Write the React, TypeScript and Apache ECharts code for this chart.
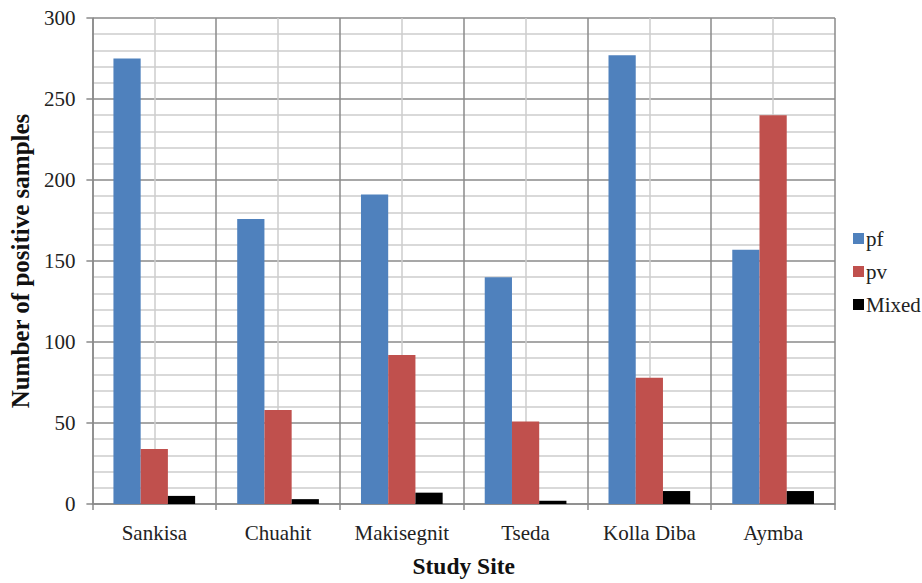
import React, { useEffect, useRef } from "react";
import * as echarts from "echarts";

const categories = ["Sankisa", "Chuahit", "Makisegnit", "Tseda", "Kolla Diba", "Aymba"];
const pfValues = [275, 176, 191, 140, 277, 157];
const pvValues = [34, 58, 92, 51, 78, 240];
const mixedValues = [5, 3, 7, 2, 8, 8];
const seriesNames = ["pf", "pv", "Mixed"];
const seriesColors = ["#4F81BD", "#C0504D", "#000000"];

const FONT = "Liberation Serif";
const DARK = "#8a8a8a";
const LIGHT = "#cdcdcd";

export default function App() {
  const ref = useRef<HTMLDivElement>(null);
  useEffect(() => {
    if (!ref.current) return;
    const chart = echarts.init(ref.current, null, { renderer: "svg" });
    const seriesData = [pfValues, pvValues, mixedValues];
    chart.setOption({
      animation: false,
      backgroundColor: "#ffffff",
      textStyle: { fontFamily: FONT },
      grid: { left: 92, right: 87, top: 18, bottom: 75, containLabel: false },
      legend: {
        orient: "vertical",
        left: 848,
        top: 223,
        itemWidth: 11,
        itemHeight: 11,
        itemGap: 12,
        icon: "rect",
        data: seriesNames,
        textStyle: { fontFamily: FONT, fontSize: 21, color: "#222", padding: [0, 0, 0, -3] },
      },
      xAxis: [
        {
          type: "category",
          data: categories,
          name: "Study Site",
          nameLocation: "middle",
          nameGap: 50,
          nameTextStyle: { fontFamily: FONT, fontSize: 23.5, fontWeight: "bold", color: "#111" },
          axisLine: { show: true, lineStyle: { color: DARK, width: 1.5 } },
          axisTick: { show: true, length: 6, lineStyle: { color: DARK, width: 1.5 } },
          axisLabel: { fontFamily: FONT, fontSize: 21, color: "#222", margin: 18 },
          splitLine: { show: false },
        },
        {
          type: "value",
          position: "top",
          min: 0,
          max: 12,
          interval: 1,
          axisLine: { show: false },
          axisTick: { show: false },
          axisLabel: { show: false },
          splitLine: { show: true, lineStyle: { color: [DARK, LIGHT], width: 1.5 } },
        },
      ],
      yAxis: {
        type: "value",
        min: 0,
        max: 300,
        interval: 50,
        name: "Number of positive samples",
        nameLocation: "middle",
        nameGap: 56,
        nameTextStyle: { fontFamily: FONT, fontSize: 25, fontWeight: "bold", color: "#111" },
        axisLine: { show: true, lineStyle: { color: DARK, width: 1.5 } },
        axisTick: { show: true, length: 6, lineStyle: { color: DARK, width: 1.5 } },
        minorTick: { show: false, splitNumber: 5 },
        axisLabel: { fontFamily: FONT, fontSize: 21, color: "#222", margin: 17 },
        splitLine: { show: true, lineStyle: { color: DARK, width: 1.5 } },
        minorSplitLine: { show: true, lineStyle: { color: LIGHT, width: 1.5 } },
      },
      series: seriesNames.map((name, i) => ({
        name,
        type: "bar",
        xAxisIndex: 0,
        data: seriesData[i],
        barGap: "0%",
        barCategoryGap: "34%",
        itemStyle: { color: seriesColors[i] },
      })),
    });
    return () => chart.dispose();
  }, []);
  return (
    <div
      ref={ref}
      style={{ position: "fixed", left: 0, top: 0, width: 922, height: 583, background: "#fff" }}
    />
  );
}
